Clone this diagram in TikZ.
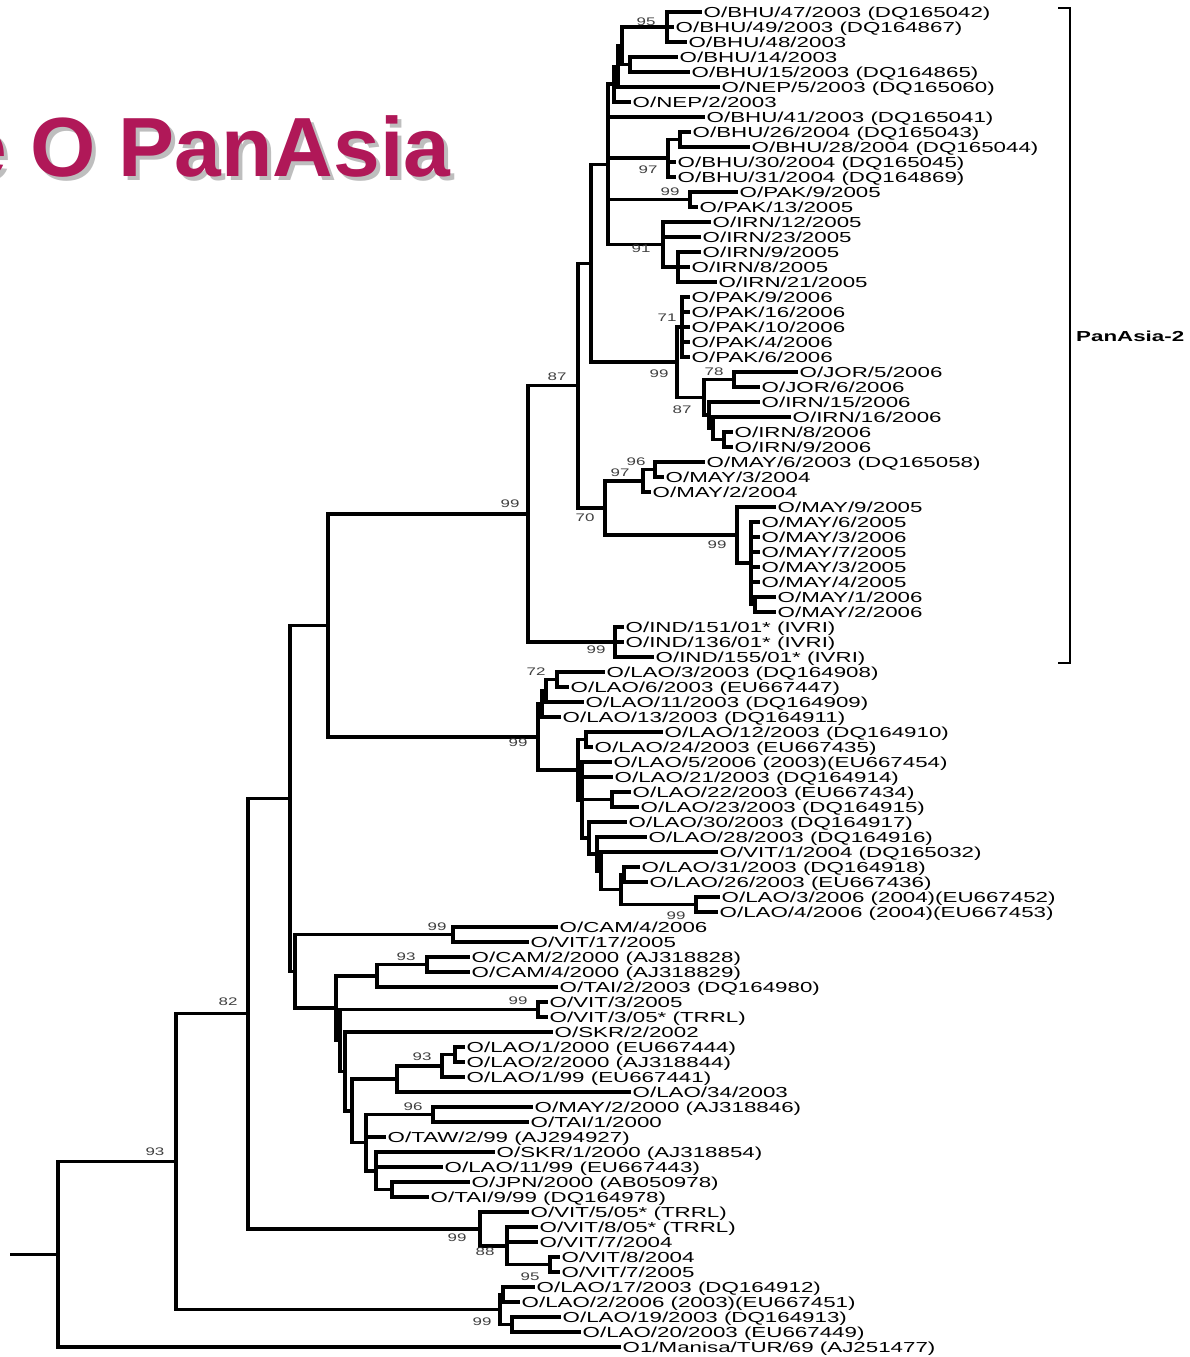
\documentclass[tikz,border=0pt]{standalone}
\usepackage{fontspec}
\newfontfamily\lab[FakeStretch=1.54]{Liberation Sans}
\newfontfamily\titlef{Liberation Sans}
\definecolor{titlec}{RGB}{176,24,88}
\definecolor{shadowc}{RGB}{190,190,190}
\newcommand\clade[2]{\foreach \chd in {#2}{\draw[br] (#1) |- (\chd);}}
\begin{document}
\begin{tikzpicture}[x=1pt,y=-1pt,
  br/.style={line width=3.6pt,line cap=rect,line join=miter},
  leafl/.style={anchor=west,inner xsep=3.5pt,inner ysep=0pt,text height=10.4pt,text depth=0pt,font={\lab\fontsize{14.5}{14.5}\selectfont}},
  bs/.style={font={\lab\fontsize{11}{11}\selectfont},text=black!75,inner sep=0pt},
  ttl/.style={anchor=base west,inner sep=0pt,font={\titlef\bfseries\fontsize{84}{84}\selectfont}}]
\useasboundingbox (0,0) rectangle (1189,1357);
\fill[white] (0,0) rectangle (1189,1357);
% title
\node[ttl,text=shadowc] (tshadow) at (-36,180) {e O PanAsia};
\node[ttl,text=titlec] (title) at (-40,176) {e O PanAsia};
% leaves
\node[leafl] (L0) at (700,12) {O/BHU/47/2003 (DQ165042)};
\node[leafl] (L1) at (672,27) {O/BHU/49/2003 (DQ164867)};
\node[leafl] (L2) at (685,42) {O/BHU/48/2003};
\node[leafl] (L3) at (676,57) {O/BHU/14/2003};
\node[leafl] (L4) at (688,72) {O/BHU/15/2003 (DQ164865)};
\node[leafl] (L5) at (718,87) {O/NEP/5/2003 (DQ165060)};
\node[leafl] (L6) at (629,102) {O/NEP/2/2003};
\node[leafl] (L7) at (703,117) {O/BHU/41/2003 (DQ165041)};
\node[leafl] (L8) at (689,132) {O/BHU/26/2004 (DQ165043)};
\node[leafl] (L9) at (748,147) {O/BHU/28/2004 (DQ165044)};
\node[leafl] (L10) at (674,162) {O/BHU/30/2004 (DQ165045)};
\node[leafl] (L11) at (674,177) {O/BHU/31/2004 (DQ164869)};
\node[leafl] (L12) at (736,192) {O/PAK/9/2005};
\node[leafl] (L13) at (696,207) {O/PAK/13/2005};
\node[leafl] (L14) at (709,222) {O/IRN/12/2005};
\node[leafl] (L15) at (699,237) {O/IRN/23/2005};
\node[leafl] (L16) at (699,252) {O/IRN/9/2005};
\node[leafl] (L17) at (688,267) {O/IRN/8/2005};
\node[leafl] (L18) at (715,282) {O/IRN/21/2005};
\node[leafl] (L19) at (688,297) {O/PAK/9/2006};
\node[leafl] (L20) at (688,312) {O/PAK/16/2006};
\node[leafl] (L21) at (688,327) {O/PAK/10/2006};
\node[leafl] (L22) at (688,342) {O/PAK/4/2006};
\node[leafl] (L23) at (688,357) {O/PAK/6/2006};
\node[leafl] (L24) at (796,372) {O/JOR/5/2006};
\node[leafl] (L25) at (758,387) {O/JOR/6/2006};
\node[leafl] (L26) at (758,402) {O/IRN/15/2006};
\node[leafl] (L27) at (789,417) {O/IRN/16/2006};
\node[leafl] (L28) at (731,432) {O/IRN/8/2006};
\node[leafl] (L29) at (731,447) {O/IRN/9/2006};
\node[leafl] (L30) at (703,462) {O/MAY/6/2003 (DQ165058)};
\node[leafl] (L31) at (662,477) {O/MAY/3/2004};
\node[leafl] (L32) at (649,492) {O/MAY/2/2004};
\node[leafl] (L33) at (774,507) {O/MAY/9/2005};
\node[leafl] (L34) at (758,522) {O/MAY/6/2005};
\node[leafl] (L35) at (758,537) {O/MAY/3/2006};
\node[leafl] (L36) at (758,552) {O/MAY/7/2005};
\node[leafl] (L37) at (758,567) {O/MAY/3/2005};
\node[leafl] (L38) at (758,582) {O/MAY/4/2005};
\node[leafl] (L39) at (774,597) {O/MAY/1/2006};
\node[leafl] (L40) at (774,612) {O/MAY/2/2006};
\node[leafl] (L41) at (622,627) {O/IND/151/01* (IVRI)};
\node[leafl] (L42) at (622,642) {O/IND/136/01* (IVRI)};
\node[leafl] (L43) at (652,657) {O/IND/155/01* (IVRI)};
\node[leafl] (L44) at (603,672) {O/LAO/3/2003 (DQ164908)};
\node[leafl] (L45) at (567,687) {O/LAO/6/2003 (EU667447)};
\node[leafl] (L46) at (582,702) {O/LAO/11/2003 (DQ164909)};
\node[leafl] (L47) at (559,717) {O/LAO/13/2003 (DQ164911)};
\node[leafl] (L48) at (661,732) {O/LAO/12/2003 (DQ164910)};
\node[leafl] (L49) at (591,747) {O/LAO/24/2003 (EU667435)};
\node[leafl] (L50) at (610,762) {O/LAO/5/2006 (2003)(EU667454)};
\node[leafl] (L51) at (611,777) {O/LAO/21/2003 (DQ164914)};
\node[leafl] (L52) at (629,792) {O/LAO/22/2003 (EU667434)};
\node[leafl] (L53) at (637,807) {O/LAO/23/2003 (DQ164915)};
\node[leafl] (L54) at (625,822) {O/LAO/30/2003 (DQ164917)};
\node[leafl] (L55) at (645,837) {O/LAO/28/2003 (DQ164916)};
\node[leafl] (L56) at (716,852) {O/VIT/1/2004 (DQ165032)};
\node[leafl] (L57) at (638,867) {O/LAO/31/2003 (DQ164918)};
\node[leafl] (L58) at (646,882) {O/LAO/26/2003 (EU667436)};
\node[leafl] (L59) at (718,897) {O/LAO/3/2006 (2004)(EU667452)};
\node[leafl] (L60) at (716,912) {O/LAO/4/2006 (2004)(EU667453)};
\node[leafl] (L61) at (556,927) {O/CAM/4/2006};
\node[leafl] (L62) at (527,942) {O/VIT/17/2005};
\node[leafl] (L63) at (468,957) {O/CAM/2/2000 (AJ318828)};
\node[leafl] (L64) at (468,972) {O/CAM/4/2000 (AJ318829)};
\node[leafl] (L65) at (556,987) {O/TAI/2/2003 (DQ164980)};
\node[leafl] (L66) at (546,1002) {O/VIT/3/2005};
\node[leafl] (L67) at (546,1017) {O/VIT/3/05* (TRRL)};
\node[leafl] (L68) at (551,1032) {O/SKR/2/2002};
\node[leafl] (L69) at (463,1047) {O/LAO/1/2000 (EU667444)};
\node[leafl] (L70) at (463,1062) {O/LAO/2/2000 (AJ318844)};
\node[leafl] (L71) at (463,1077) {O/LAO/1/99 (EU667441)};
\node[leafl] (L72) at (629,1092) {O/LAO/34/2003};
\node[leafl] (L73) at (531,1107) {O/MAY/2/2000 (AJ318846)};
\node[leafl] (L74) at (527,1122) {O/TAI/1/2000};
\node[leafl] (L75) at (384,1137) {O/TAW/2/99 (AJ294927)};
\node[leafl] (L76) at (493,1152) {O/SKR/1/2000 (AJ318854)};
\node[leafl] (L77) at (441,1167) {O/LAO/11/99 (EU667443)};
\node[leafl] (L78) at (468,1182) {O/JPN/2000 (AB050978)};
\node[leafl] (L79) at (427,1197) {O/TAI/9/99 (DQ164978)};
\node[leafl] (L80) at (527,1212) {O/VIT/5/05* (TRRL)};
\node[leafl] (L81) at (536,1227) {O/VIT/8/05* (TRRL)};
\node[leafl] (L82) at (536,1242) {O/VIT/7/2004};
\node[leafl] (L83) at (558,1257) {O/VIT/8/2004};
\node[leafl] (L84) at (558,1272) {O/VIT/7/2005};
\node[leafl] (L85) at (533,1287) {O/LAO/17/2003 (DQ164912)};
\node[leafl] (L86) at (518,1302) {O/LAO/2/2006 (2003)(EU667451)};
\node[leafl] (L87) at (559,1317) {O/LAO/19/2003 (DQ164913)};
\node[leafl] (L88) at (579,1332) {O/LAO/20/2003 (EU667449)};
\node[leafl] (L89) at (619,1347) {O1/Manisa/TUR/69 (AJ251477)};
% internal nodes
\coordinate (n95) at (667,27);
\coordinate (n1415) at (630,64.5);
\coordinate (T3) at (622,45.75);
\coordinate (T2) at (618,66.4);
\coordinate (T1) at (614,84.2);
\coordinate (n2628) at (680,139.5);
\coordinate (n97) at (668,158.25);
\coordinate (npak5) at (690,199.5);
\coordinate (nirn) at (678,267);
\coordinate (n91) at (663,244.5);
\coordinate (B) at (608,164.35);
\coordinate (n71) at (682,327);
\coordinate (n78) at (734,379.5);
\coordinate (nirn89) at (724,439.5);
\coordinate (c2) at (713,428.25);
\coordinate (c1) at (709,415.1);
\coordinate (n87b) at (704,397.3);
\coordinate (npak6) at (677,362.2);
\coordinate (A) at (591,263.3);
\coordinate (n96) at (655,469.5);
\coordinate (n97m) at (643,480.75);
\coordinate (nmay1) at (755,604.5);
\coordinate (nmayX) at (751,563.25);
\coordinate (n99m) at (737,535.1);
\coordinate (nmay) at (605,507.9);
\coordinate (n87) at (578,385.6);
\coordinate (nind) at (615,642);
\coordinate (P) at (528,513.8);
\coordinate (n72) at (557,679.5);
\coordinate (L2n) at (546,690.75);
\coordinate (L1n) at (542,703.9);
\coordinate (n1224) at (586,739.5);
\coordinate (n2223) at (612,799.5);
\coordinate (n3126) at (624,874.5);
\coordinate (n99l) at (696,904.5);
\coordinate (M6) at (621,889.5);
\coordinate (M5) at (601,870.75);
\coordinate (M4) at (597,853.9);
\coordinate (M3) at (589,837.9);
\coordinate (M2) at (582,799.95);
\coordinate (M1) at (578,769.7);
\coordinate (nlao) at (538,736.8);
\coordinate (Q) at (328,625.3);
\coordinate (n99c) at (453,934.5);
\coordinate (n93b) at (427,964.5);
\coordinate (n377) at (377,975.75);
\coordinate (nvit3) at (538,1009.5);
\coordinate (nl12) at (455,1054.5);
\coordinate (n93c) at (442,1065.75);
\coordinate (n397) at (397,1078.9);
\coordinate (n96b) at (433,1114.5);
\coordinate (njt) at (392,1189.5);
\coordinate (n375) at (376,1170.75);
\coordinate (R6) at (366,1142.6);
\coordinate (R4) at (352,1110.75);
\coordinate (R3) at (345,1071.4);
\coordinate (R2b) at (340,1040.45);
\coordinate (R2) at (336,1008.1);
\coordinate (R1) at (295,971.3);
\coordinate (R) at (290,798.3);
\coordinate (n95v) at (550,1264.5);
\coordinate (n88) at (507,1245.75);
\coordinate (n99v) at (480,1228.9);
\coordinate (n82) at (248,1013.6);
\coordinate (nl17) at (503,1294.5);
\coordinate (nl19) at (512,1324.5);
\coordinate (n99s) at (500,1309.5);
\coordinate (n93) at (176,1161.55);
\coordinate (root) at (58,1254.3);
\coordinate (stub) at (12,1254.3);
% branches
\clade{n95}{L0.west,L1.west,L2.west}
\clade{n1415}{L3.west,L4.west}
\clade{T3}{n95,n1415}
\clade{T2}{T3,L5.west}
\clade{T1}{T2,L6.west}
\clade{n2628}{L8.west,L9.west}
\clade{n97}{n2628,L10.west,L11.west}
\clade{npak5}{L12.west,L13.west}
\clade{nirn}{L16.west,L17.west,L18.west}
\clade{n91}{L14.west,L15.west,nirn}
\clade{B}{T1,L7.west,n97,npak5,n91}
\clade{n71}{L19.west,L20.west,L21.west,L22.west,L23.west}
\clade{n78}{L24.west,L25.west}
\clade{nirn89}{L28.west,L29.west}
\clade{c2}{L27.west,nirn89}
\clade{c1}{L26.west,c2}
\clade{n87b}{n78,c1}
\clade{npak6}{n71,n87b}
\clade{A}{B,npak6}
\clade{n96}{L30.west,L31.west}
\clade{n97m}{n96,L32.west}
\clade{nmay1}{L39.west,L40.west}
\clade{nmayX}{L34.west,L35.west,L36.west,L37.west,L38.west,nmay1}
\clade{n99m}{L33.west,nmayX}
\clade{nmay}{n97m,n99m}
\clade{n87}{A,nmay}
\clade{nind}{L41.west,L42.west,L43.west}
\clade{P}{n87,nind}
\clade{n72}{L44.west,L45.west}
\clade{L2n}{n72,L46.west}
\clade{L1n}{L2n,L47.west}
\clade{n1224}{L48.west,L49.west}
\clade{n2223}{L52.west,L53.west}
\clade{n3126}{L57.west,L58.west}
\clade{n99l}{L59.west,L60.west}
\clade{M6}{n3126,n99l}
\clade{M5}{L56.west,M6}
\clade{M4}{L55.west,M5}
\clade{M3}{L54.west,M4}
\clade{M2}{L50.west,L51.west,n2223,M3}
\clade{M1}{n1224,M2}
\clade{nlao}{L1n,M1}
\clade{Q}{P,nlao}
\clade{n99c}{L61.west,L62.west}
\clade{n93b}{L63.west,L64.west}
\clade{n377}{n93b,L65.west}
\clade{nvit3}{L66.west,L67.west}
\clade{nl12}{L69.west,L70.west}
\clade{n93c}{nl12,L71.west}
\clade{n397}{n93c,L72.west}
\clade{n96b}{L73.west,L74.west}
\clade{njt}{L78.west,L79.west}
\clade{n375}{L76.west,L77.west,njt}
\clade{R6}{n96b,L75.west,n375}
\clade{R4}{n397,R6}
\clade{R3}{L68.west,R4}
\clade{R2b}{nvit3,R3}
\clade{R2}{n377,R2b}
\clade{R1}{n99c,R2}
\clade{R}{Q,R1}
\clade{n95v}{L83.west,L84.west}
\clade{n88}{L81.west,L82.west,n95v}
\clade{n99v}{L80.west,n88}
\clade{n82}{R,n99v}
\clade{nl17}{L85.west,L86.west}
\clade{nl19}{L87.west,L88.west}
\clade{n99s}{nl17,nl19}
\clade{n93}{n82,n99s}
\clade{root}{n93,L89.west}
\draw[br] (stub) -- (root);
% bootstrap values
\node[bs] (s1) at (646,22) {95};
\node[bs] (s2) at (648,170) {97};
\node[bs] (s3) at (670,192) {99};
\node[bs] (s4) at (641,249) {91};
\node[bs] (s5) at (667,318) {71};
\node[bs] (s6) at (659,374) {99};
\node[bs] (s7) at (714,372) {78};
\node[bs] (s8) at (682,410) {87};
\node[bs] (s9) at (557,377) {87};
\node[bs] (s10) at (636,462) {96};
\node[bs] (s11) at (620,473) {97};
\node[bs] (s12) at (510,504) {99};
\node[bs] (s13) at (585,518) {70};
\node[bs] (s14) at (717,545) {99};
\node[bs] (s15) at (596,650) {99};
\node[bs] (s16) at (536,672) {72};
\node[bs] (s17) at (518,743) {99};
\node[bs] (s18) at (676,916) {99};
\node[bs] (s19) at (437,927) {99};
\node[bs] (s20) at (406,957) {93};
\node[bs] (s21) at (518,1001) {99};
\node[bs] (s22) at (422,1057) {93};
\node[bs] (s23) at (413,1107) {96};
\node[bs] (s24) at (228,1002) {82};
\node[bs] (s25) at (155,1152) {93};
\node[bs] (s26) at (457,1238) {99};
\node[bs] (s27) at (485,1252) {88};
\node[bs] (s28) at (530,1277) {95};
\node[bs] (s29) at (482,1322) {99};
% PanAsia-2 bracket
\coordinate (bt) at (1058,8);
\coordinate (bb) at (1058,663);
\draw[line width=1.5pt] (bt) -- ++(12,0) |- (bb);
\node[anchor=west,inner sep=0pt,font={\lab\bfseries\fontsize{14.5}{14.5}\selectfont}] (pa2) at (1076,336) {PanAsia-2};
\end{tikzpicture}
\end{document}
